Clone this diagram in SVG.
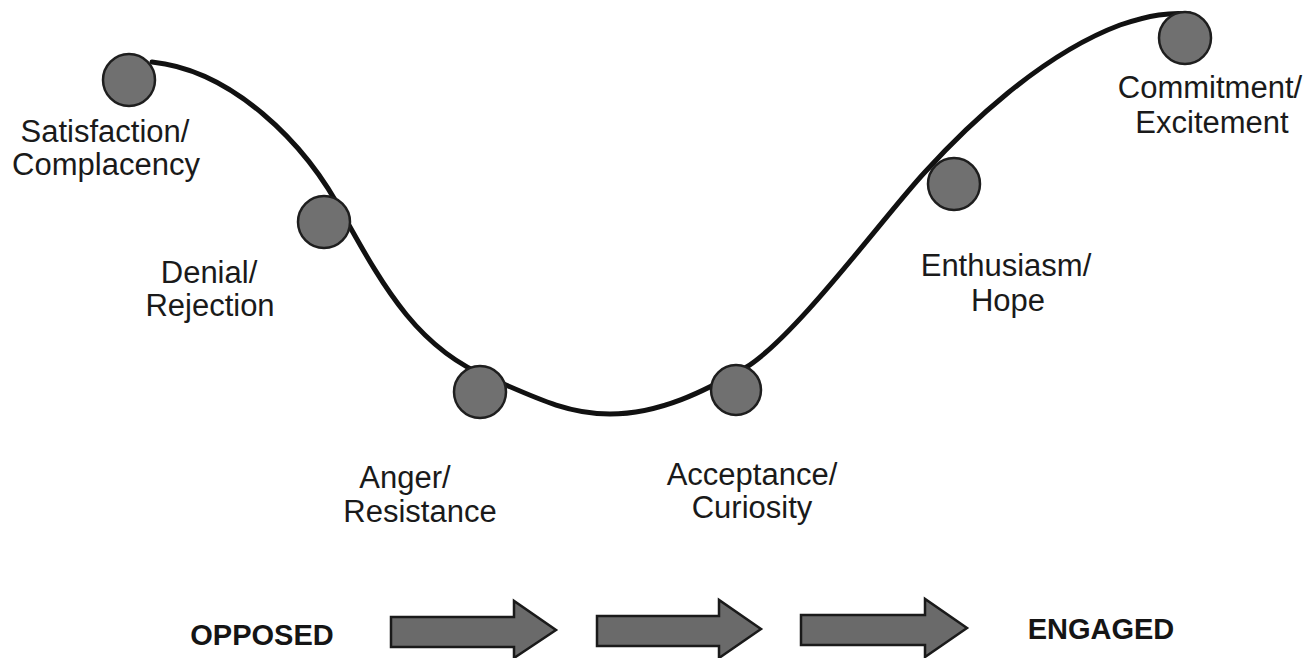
<svg xmlns="http://www.w3.org/2000/svg" width="1309" height="658" viewBox="0 0 1309 658">
<style>
.lbl{font-family:"Liberation Sans",Arial,sans-serif;font-size:31px;fill:#1a1a1a;text-anchor:middle}
.end{font-family:"Liberation Sans",Arial,sans-serif;font-size:29px;font-weight:bold;fill:#151515;text-anchor:middle}
.dot{fill:#707070;stroke:#1e1e1e;stroke-width:2.5}
.arr{fill:#6a6a6a;stroke:#1a1a1a;stroke-width:2.5;stroke-linejoin:miter}
.curve{fill:none;stroke:#111;stroke-width:5;stroke-linecap:round}
</style>
<rect width="1309" height="658" fill="#fff"/>
<g id="connectors">
<path class="curve" d="M152,62 C230,70 305,140 345,218 C385,290 420,350 490,378 C540,400 570,414 610,414 C660,414 705,391 745,368 C795,338 885,215 925,172 C965,128 1040,55 1120,25 C1150,15 1170,12 1190,14"/>
</g>
<g id="n1"><circle class="dot" cx="129" cy="80" r="26"/><text class="lbl" x="105" y="142">Satisfaction/</text><text class="lbl" x="106" y="175">Complacency</text></g>
<g id="n2"><circle class="dot" cx="324" cy="222" r="26"/><text class="lbl" x="209" y="283">Denial/</text><text class="lbl" x="210" y="316">Rejection</text></g>
<g id="n3"><circle class="dot" cx="480" cy="392" r="26"/><text class="lbl" x="405" y="488">Anger/</text><text class="lbl" x="420" y="522">Resistance</text></g>
<g id="n4"><circle class="dot" cx="736" cy="390" r="25"/><text class="lbl" x="752" y="485">Acceptance/</text><text class="lbl" x="752" y="518">Curiosity</text></g>
<g id="n5"><circle class="dot" cx="954" cy="184" r="26"/><text class="lbl" x="1006" y="276">Enthusiasm/</text><text class="lbl" x="1008" y="311">Hope</text></g>
<g id="n6"><circle class="dot" cx="1185" cy="38" r="26"/><text class="lbl" x="1210" y="98">Commitment/</text><text class="lbl" x="1212" y="133">Excitement</text></g>
<g id="opposed"><text class="end" x="262" y="645">OPPOSED</text></g>
<g id="engaged"><text class="end" x="1101" y="639">ENGAGED</text></g>
<g id="arrows">
<polygon class="arr" points="391,617 514,617 514,601 556,630 514,658 514,647 391,647"/>
<polygon class="arr" points="597,616 719,616 719,600 761,629 719,658 719,646 597,646"/>
<polygon class="arr" points="801,615 925,615 925,599 967,628 925,657 925,645 801,645"/>
</g>
</svg>
